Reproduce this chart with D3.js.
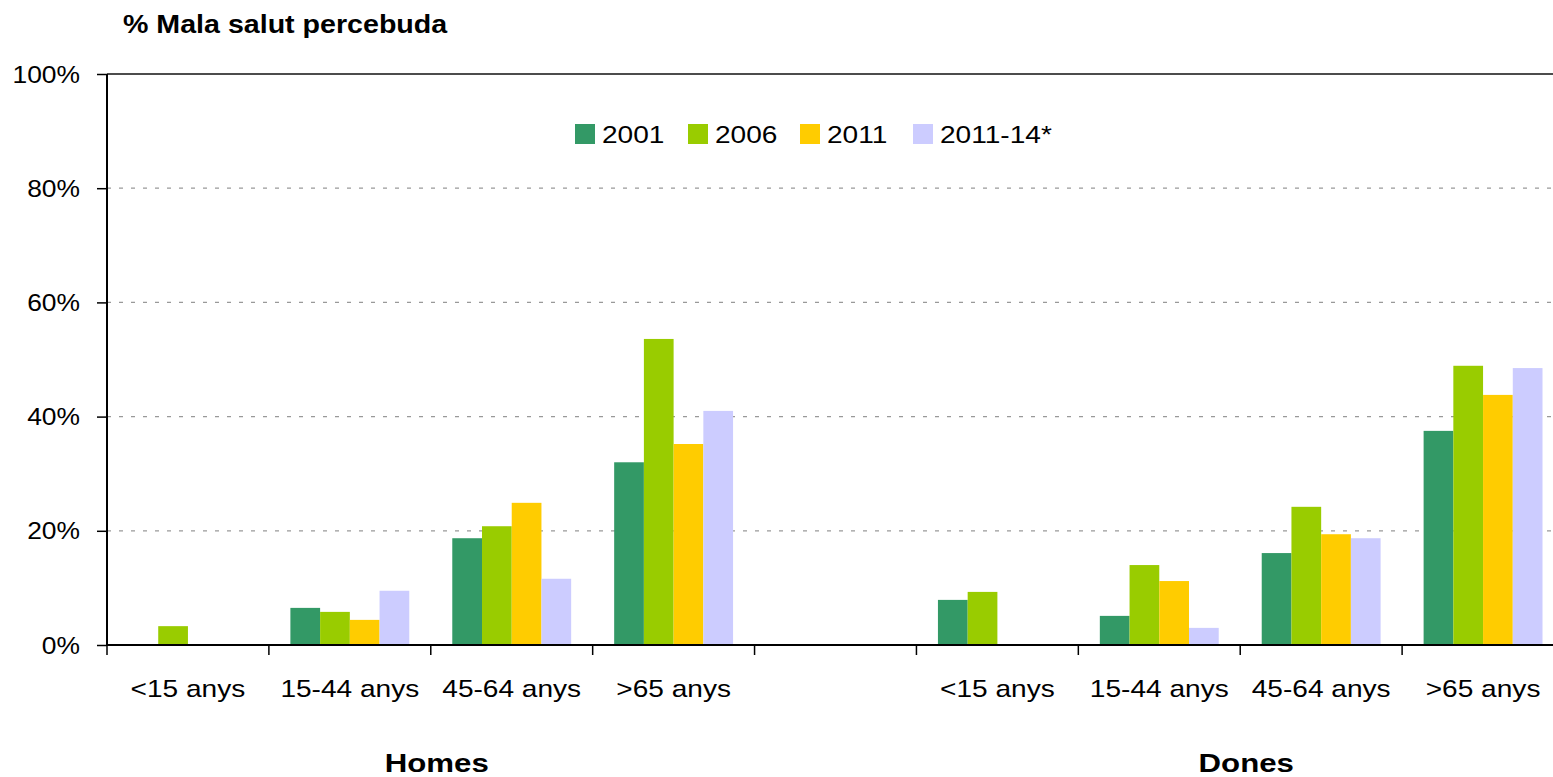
<!DOCTYPE html>
<html>
<head>
<meta charset="utf-8">
<script src="https://cdn.jsdelivr.net/npm/d3@7"></script>
<style>
  body { margin: 0; background: #fff; }
  svg { font-family: "Liberation Sans", Arial, sans-serif; }
</style>
</head>
<body>
<div id="container"></div>
<script>
"use strict";

// data (% poor perceived health)
const sexes = ["Homes", "Dones"];
const ages = ["<15 anys", "15-44 anys", "45-64 anys", ">65 anys"];
const years = ["2001", "2006", "2011", "2011-14*"];
const colors = ["#339966", "#99cc00", "#ffcc00", "#ccccff"];
const homes2001 = [0, 6.5, 18.7, 32.0];
const homes2006 = [3.3, 5.8, 20.8, 53.6];
const homes2011 = [0, 4.4, 24.9, 35.2];
const homes201114 = [0, 9.5, 11.6, 41.0];
const dones2001 = [7.9, 5.1, 16.1, 37.5];
const dones2006 = [9.3, 14.0, 24.2, 48.9];
const dones2011 = [0, 11.2, 19.4, 43.8];
const dones201114 = [0, 3.0, 18.7, 48.5];
const yTicks = [0, 20, 40, 60, 80, 100];

const homesSeries = [homes2001, homes2006, homes2011, homes201114];
const donesSeries = [dones2001, dones2006, dones2011, dones201114];

// slots: 4 age groups for men, one empty spacer, 4 for women
const slots = [];
ages.forEach((a, i) => slots.push({ key: "H" + i, label: a, sex: 0, idx: i }));
slots.push({ key: "gap", label: "", sex: -1, idx: -1 });
ages.forEach((a, i) => slots.push({ key: "D" + i, label: a, sex: 1, idx: i }));

const data = [];
slots.forEach((s) => {
    if (s.sex < 0) return;
    const series = s.sex === 0 ? homesSeries : donesSeries;
    years.forEach((y, j) => {
        data.push({ slot: s.key, year: y, value: series[j][s.idx] });
    });
});

const margin = { top: 74, left: 107 };
const width = 1457, height = 571;

const svg = d3.select("#container")
    .append("svg")
    .attr("width", 1553)
    .attr("height", 777);

// the original font renders a bit wider than Liberation Sans, so stretch horizontally
function wideText(parent, x, y, sx, txt) {
    return parent.append("text")
        .attr("transform", `translate(${x}, ${y}) scale(${sx}, 1)`)
        .text(txt);
}

const g = svg.append("g")
    .attr("transform", `translate(${margin.left}, ${margin.top})`);

const x = d3.scaleBand().domain(slots.map((s) => s.key)).range([0, width]).padding(0);
const xInner = d3.scaleBand().domain(years).range([21.5, x.bandwidth() - 21.5]).padding(0);
const y = d3.scaleLinear().domain([0, 100]).range([height, 0]);

// gridlines
g.append("g")
    .selectAll("line")
    .data(yTicks.filter((t) => t > 0 && t < 100))
    .join("line")
    .attr("x1", 0)
    .attr("x2", width)
    .attr("y1", (d) => y(d))
    .attr("y2", (d) => y(d))
    .attr("stroke", "#999")
    .attr("stroke-width", 1.3)
    .attr("stroke-dasharray", "4,8");

// top border
g.append("line")
    .attr("x1", 0).attr("x2", width)
    .attr("y1", y(100)).attr("y2", y(100))
    .attr("stroke", "#111").attr("stroke-width", 1.5);

// bars
g.append("g")
    .selectAll("rect")
    .data(data.filter((d) => d.value > 0))
    .join("rect")
    .attr("x", (d) => x(d.slot) + xInner(d.year))
    .attr("y", (d) => y(d.value))
    .attr("width", xInner.bandwidth())
    .attr("height", (d) => y(0) - y(d.value))
    .attr("fill", (d) => colors[years.indexOf(d.year)]);

// y axis
const yAxis = g.append("g")
    .call(d3.axisLeft(y).tickValues(yTicks).tickSize(10).tickFormat(""));
yAxis.select(".domain").attr("stroke", "#000").attr("stroke-width", 2).attr("d", `M0,0V${height}`);
yAxis.selectAll(".tick line").attr("stroke", "#000").attr("stroke-width", 1.5);
const yLabels = g.append("g")
    .attr("text-anchor", "end")
    .style("font-size", "24px");
yTicks.forEach((t) => wideText(yLabels, -27, y(t) + 8.5, 1.1, t + "%"));

// x axis (ticks at slot boundaries)
const boundaries = slots.map((s) => x(s.key)).concat([width]);
g.append("line")
    .attr("x1", 0).attr("x2", width)
    .attr("y1", height).attr("y2", height)
    .attr("stroke", "#000").attr("stroke-width", 2);
g.append("g")
    .selectAll("line")
    .data(boundaries)
    .join("line")
    .attr("x1", (d) => d).attr("x2", (d) => d)
    .attr("y1", height).attr("y2", height + 10)
    .attr("stroke", "#000").attr("stroke-width", 1.5);

const xLabels = g.append("g")
    .attr("text-anchor", "middle")
    .style("font-size", "24px");
slots.filter((s) => s.label).forEach((s) => {
    wideText(xLabels, x(s.key) + x.bandwidth() / 2, height + 52, 1.17, s.label);
});

// group labels
const groupLabels = g.append("g")
    .attr("text-anchor", "middle")
    .style("font-size", "26px")
    .style("font-weight", "bold");
sexes.forEach((s, i) => {
    const first = x((i === 0 ? "H" : "D") + "0");
    const last = x((i === 0 ? "H" : "D") + "3") + x.bandwidth();
    wideText(groupLabels, (first + last) / 2 + 6, height + 127, 1.2, s);
});

// title
wideText(svg, 123, 33, 1.1, "% Mala salut percebuda")
    .style("font-size", "26px")
    .style("font-weight", "bold");

// legend
const legendX = [575, 688, 800, 913];
const legend = svg.append("g").style("font-size", "24px");
years.forEach((yr, i) => {
    legend.append("rect")
        .attr("x", legendX[i]).attr("y", 124)
        .attr("width", 20).attr("height", 20)
        .attr("fill", colors[i]);
    wideText(legend, legendX[i] + 27, 143, 1.17, yr);
});
</script>
</body>
</html>
